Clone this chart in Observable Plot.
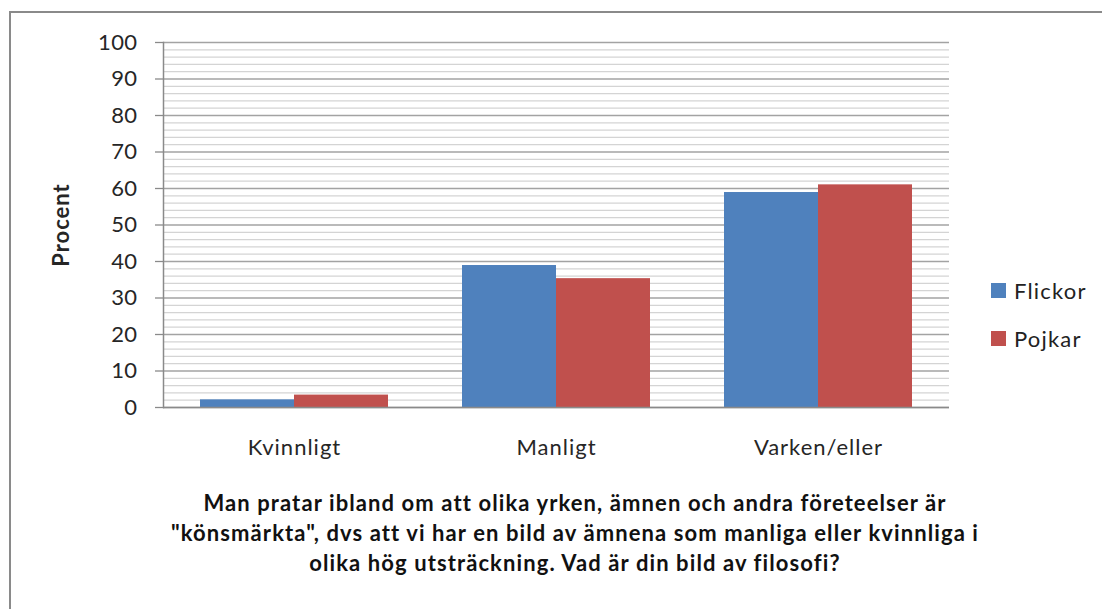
<!DOCTYPE html>
<html>
<head>
<meta charset="utf-8">
<script src="https://cdn.jsdelivr.net/npm/d3@7"></script>
<script src="https://cdn.jsdelivr.net/npm/@observablehq/plot@0.6"></script>
<style>
  html, body { margin: 0; padding: 0; background: #fff; }
  #wrap { position: relative; width: 1102px; height: 609px; overflow: hidden; font-family: Lato, "Open Sans", sans-serif; }
  #border { position: absolute; left: 9px; top: 11px; right: -4px; bottom: -4px; border-left: 2px solid #8a8a8a; border-top: 2px solid #8a8a8a; }
  #chart { position: absolute; left: 0; top: 0; }
  #chart svg g[aria-label="y-axis label"] text { font-weight: bold; letter-spacing: 1px; }
  #chart svg g[aria-label="fx-axis tick label"] text { letter-spacing: 1px; }
  #chart svg g[aria-label="y-axis tick label"] text { letter-spacing: 0.4px; }
  #title { position: absolute; left: 75px; width: 1000px; top: 488px; text-align: center; white-space: nowrap; font-weight: bold; font-size: 22px; line-height: 30px; color: #111; letter-spacing: 1.1px; }
  #legend { position: absolute; left: 991px; top: 276px; }
  .row { display: flex; align-items: center; height: 28px; margin-bottom: 20px; font-size: 22px; color: #222; letter-spacing: 1.2px; }
  .sw { width: 15px; height: 15px; margin-right: 8px; }
</style>
</head>
<body>
<div id="wrap">
  <div id="border"></div>
  <div id="chart"></div>
  <div id="title"></div>
  <div id="legend"></div>
</div>
<script>
const categories = ["Kvinnligt", "Manligt", "Varken/eller"];
const series = ["Flickor", "Pojkar"];
const flickor = [2.1, 38.9, 58.9];
const pojkar = [3.4, 35.3, 61.0];
const colors = ["#4F81BD", "#C0504D"];
const yTicks = [0, 10, 20, 30, 40, 50, 60, 70, 80, 90, 100];
const minorTicks = d3.range(0, 101, 2).filter(v => v % 10 !== 0);
const titleLines = [
  "Man pratar ibland om att olika yrken, ämnen och andra företeelser är",
  "\"könsmärkta\", dvs att vi har en bild av ämnena som manliga eller kvinnliga i",
  "olika hög utsträckning. Vad är din bild av filosofi?"
];

const data = [];
categories.forEach((c, i) => {
  data.push({cat: c, series: series[0], value: flickor[i]});
  data.push({cat: c, series: series[1], value: pojkar[i]});
});

const plot = Plot.plot({
  width: 1102,
  height: 470,
  marginLeft: 162,
  marginRight: 153,
  marginTop: 42,
  marginBottom: 63,
  style: {fontFamily: "Lato, 'Open Sans', sans-serif", background: "transparent"},
  fx: {domain: categories, padding: 0},
  x: {domain: series, paddingInner: 0, paddingOuter: 0.38, axis: null},
  y: {domain: [0, 100]},
  color: {domain: series, range: colors},
  marks: [
    Plot.gridY(minorTicks, {stroke: "#d4d4d4", strokeOpacity: 1, strokeWidth: 1.3}),
    Plot.gridY(yTicks, {stroke: "#a3a3a3", strokeOpacity: 1, strokeWidth: 1.3}),
    Plot.barY(data, {fx: "cat", x: "series", y: "value", fill: "series"}),
    Plot.ruleY([0], {stroke: "#8a8a8a", strokeWidth: 1.5}),
    Plot.frame({anchor: "left", facetAnchor: "left", stroke: "#8a8a8a", strokeWidth: 1.5}),
    Plot.axisY({ticks: yTicks, tickSize: 8, tickPadding: 18, fontSize: 22, stroke: "#8a8a8a", strokeWidth: 1.3, fill: "#262626",
      label: "Procent", labelArrow: "none", labelAnchor: "center", labelOffset: 110}),
    Plot.axisFx({anchor: "bottom", tickSize: 0, tickPadding: 32, fontSize: 22, fill: "#262626", label: null})
  ]
});
document.getElementById("chart").appendChild(plot);

const titleEl = document.getElementById("title");
titleLines.forEach(l => {
  const d = document.createElement("div");
  d.textContent = l;
  titleEl.appendChild(d);
});

const legend = document.getElementById("legend");
series.forEach((s, i) => {
  const row = document.createElement("div");
  row.className = "row";
  const sw = document.createElement("div");
  sw.className = "sw";
  sw.style.background = colors[i];
  const t = document.createElement("span");
  t.textContent = s;
  row.appendChild(sw);
  row.appendChild(t);
  legend.appendChild(row);
});
</script>
</body>
</html>
